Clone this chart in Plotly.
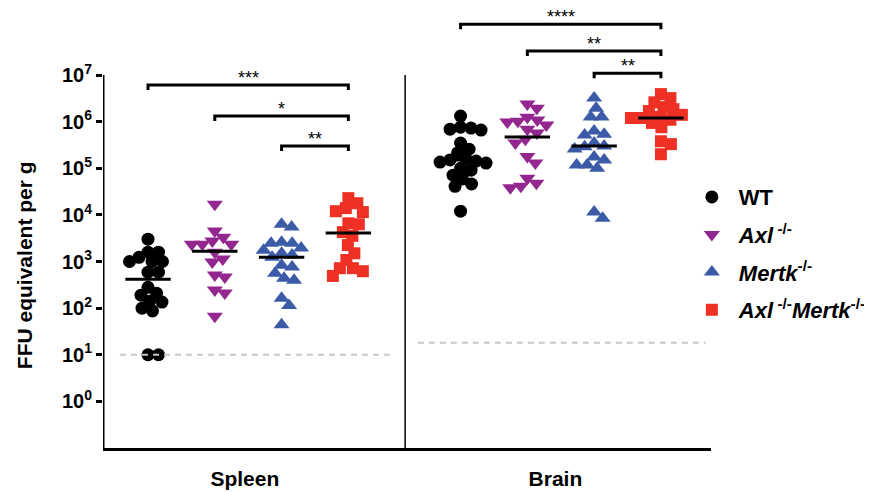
import numpy as np
import plotly.graph_objects as go

# ---------------- data ----------------
groups = ["WT", "Axl", "Mertk", "DKO"]
legend_names = ["WT", "<i>Axl</i><sup> -/-</sup>", "<i>Mertk</i><sup>-/-</sup>",
                "<i>Axl</i><sup> -/-</sup><i>Mertk</i><sup>-/-</sup>"]

spleen_wt = [3020, 1590, 1590, 1230, 1000, 1000, 1000, 590, 590, 280, 209, 190, 141, 135, 100, 87, 10, 10]
spleen_axl = [17000, 4500, 3300, 2750, 2350, 2350, 2350, 1590, 1130, 975, 515, 465, 245, 210, 67]
spleen_mertk = [6300, 5500, 2600, 2470, 2470, 1940, 1740, 1500, 1380, 1240, 830, 760, 560, 440, 395, 163, 114, 44]
spleen_dko = [22900, 17800, 14000, 12000, 11500, 6600, 6300, 4270, 3540, 2250, 1500, 1080, 720, 720, 620, 490]

brain_wt = [1.32e6, 7.6e5, 7.3e5, 6.9e5, 6.6e5, 3.47e5, 2.57e5, 2.13e5, 1.58e5, 1.51e5, 1.43e5,
            1.36e5, 1.29e5, 1.0e5, 9.1e4, 7.1e4, 5.9e4, 4.6e4, 4.1e4, 1.2e4]
brain_axl = [2.39e6, 1.95e6, 1.25e6, 1.08e6, 1.02e6, 9.8e5, 8.5e5, 6.9e5, 5.7e5, 4.2e5, 3.5e5,
             1.8e5, 1.3e5, 6.1e4, 4.8e4, 4.1e4, 3.8e4]
brain_mertk = [3.2e6, 1.95e6, 1.26e6, 1.26e6, 6.3e5, 5.4e5, 5.2e5, 3.5e5, 3.0e5, 2.9e5, 2.6e5,
               1.74e5, 1.5e5, 1.18e5, 1.18e5, 1.0e5, 1.15e4, 8.5e3]
brain_dko = [3.9e6, 3.2e6, 2.6e6, 2.05e6, 1.85e6, 1.69e6, 1.4e6, 1.26e6, 1.2e6, 1.2e6, 1.1e6,
             9.4e5, 7.6e5, 3.8e5, 3.3e5, 2.0e5]

spleen_medians = [417, 1660, 1240, 4080]
brain_medians = [1.5e5, 4.7e5, 3.0e5, 1.2e6]

spleen_limit = 10
brain_limit = 18

tick_vals = [1, 10, 100, 1e3, 1e4, 1e5, 1e6, 1e7]
tick_text = ["10<sup>%d</sup>" % i for i in range(8)]

tissues = ["Spleen", "Brain"]

# comparisons: (tissue index, group a, group b, label)
comparisons = [(0, 0, 3, "***"), (0, 1, 3, "*"), (0, 2, 3, "**"),
               (1, 0, 3, "****"), (1, 1, 3, "**"), (1, 2, 3, "**")]

# ---------------- style / layout ----------------
colors = ["#000000", "#93278F", "#3B5BA8", "#EE3124"]
symbols = ["circle", "triangle-down", "triangle-up", "square"]
sizes = [13, 14, 14, 12]

pos = {0: [1, 2, 3, 4], 1: [5.68, 6.68, 7.68, 8.68]}
x_range = [0.326, 9.43]
y_range = [-1, 8.438]
PX_X = 66.8   # px per x unit
PX_Y = 46.6   # px per decade
FONT = "Liberation Sans"

bracket_y = {(0, 0): 6.785, (0, 1): 6.12, (0, 2): 5.48,
             (1, 0): 8.09, (1, 1): 7.515, (1, 2): 7.04}


def beeswarm(values, mind):
    """Return x offsets (in px) so markers do not overlap."""
    ys = np.log10(np.array(values, dtype=float)) * PX_Y
    order = np.argsort(-ys)
    placed = []
    offs = np.zeros(len(values))
    cands = [0.0]
    for k in range(1, 200):
        cands += [k * 0.5, -k * 0.5]
    for i in order:
        for c in cands:
            ok = True
            for (px, py) in placed:
                if (px - c) ** 2 + (py - ys[i]) ** 2 < mind ** 2:
                    ok = False
                    break
            if ok:
                offs[i] = c
                placed.append((c, ys[i]))
                break
    return offs


data = {0: [spleen_wt, spleen_axl, spleen_mertk, spleen_dko],
        1: [brain_wt, brain_axl, brain_mertk, brain_dko]}
medians = {0: spleen_medians, 1: brain_medians}

fig = go.Figure()

for g in range(4):
    xs, ys = [], []
    for t in (0, 1):
        vals = data[t][g]
        offs = beeswarm(vals, 10.2)
        xs += list(pos[t][g] + offs / PX_X)
        ys += list(vals)
    fig.add_trace(go.Scatter(
        x=xs, y=ys, mode="markers", name=legend_names[g], legendgroup=groups[g],
        marker=dict(color=colors[g], symbol=symbols[g], size=sizes[g], line=dict(width=0)),
        cliponaxis=False))

# median lines
for t in (0, 1):
    for g in range(4):
        fig.add_trace(go.Scatter(
            x=[pos[t][g] - 0.34, pos[t][g] + 0.34], y=[medians[t][g]] * 2, mode="lines",
            line=dict(color="black", width=3), showlegend=False, hoverinfo="skip"))

# detection limits
fig.add_trace(go.Scatter(x=[0.58, 4.62], y=[spleen_limit] * 2, mode="lines",
                         line=dict(color="#C8C8C8", width=2, dash="6px,5px"),
                         showlegend=False, hoverinfo="skip"))
fig.add_trace(go.Scatter(x=[5.04, 9.35], y=[brain_limit] * 2, mode="lines",
                         line=dict(color="#C8C8C8", width=2, dash="6px,5px"),
                         showlegend=False, hoverinfo="skip"))

# left axis line and divider
fig.add_trace(go.Scatter(x=[x_range[0], x_range[0]], y=[10 ** y_range[0], 1e7], mode="lines",
                         line=dict(color="black", width=3), showlegend=False,
                         hoverinfo="skip", cliponaxis=False))
fig.add_trace(go.Scatter(x=[4.85, 4.85], y=[10 ** y_range[0], 1e7], mode="lines",
                         line=dict(color="black", width=1.5), showlegend=False,
                         hoverinfo="skip", cliponaxis=False))

# significance brackets
tick = 5 / PX_Y
annotations = []
for idx, (t, a, b, lab) in enumerate(comparisons):
    yb = bracket_y[(t, a)]
    xa, xb = pos[t][a], pos[t][b]
    fig.add_trace(go.Scatter(
        x=[xa, xa, xb, xb], y=[10 ** (yb - tick), 10 ** yb, 10 ** yb, 10 ** (yb - tick)],
        mode="lines", line=dict(color="black", width=3), showlegend=False,
        hoverinfo="skip", cliponaxis=False))
    annotations.append(dict(x=(xa + xb) / 2, y=yb + 7 / PX_Y, xref="x", yref="y",
                            text=lab, showarrow=False, yanchor="middle",
                            font=dict(family=FONT, size=18, color="black")))

annotations.append(dict(x=-0.128, y=0.416, xref="paper", yref="paper",
                        xanchor="center", yanchor="middle",
                        text="FFU equivalent per g", textangle=-90, showarrow=False,
                        font=dict(family=FONT, size=21, color="black", weight="bold")))

fig.update_layout(
    width=864, height=484,
    margin=dict(l=95, r=161, t=0, b=44),
    plot_bgcolor="white", paper_bgcolor="white",
    font=dict(family=FONT, color="black"),
    annotations=annotations,
    showlegend=True,
    legend=dict(x=0.957, y=0.618, xanchor="left", yanchor="top",
                font=dict(family=FONT, size=22, color="black", weight="bold"),
                tracegroupgap=6, itemwidth=44, bgcolor="rgba(0,0,0,0)"),
    xaxis=dict(range=x_range, showgrid=False, zeroline=False, showline=True,
               linecolor="black", linewidth=3, tickvals=[2.45, 7.1], ticktext=tissues,
               ticks="outside", ticklen=10, tickcolor="rgba(0,0,0,0)",
               tickfont=dict(family=FONT, size=21, color="black", weight="bold")),
    yaxis=dict(type="log", range=y_range, showgrid=False, zeroline=False, showline=False,
               tickvals=tick_vals, ticktext=tick_text, ticks="outside", ticklen=6,
               tickwidth=2.5, tickcolor="black",
               tickfont=dict(family=FONT, size=20, color="black", weight="bold")),
)

fig.write_html("out.html")
